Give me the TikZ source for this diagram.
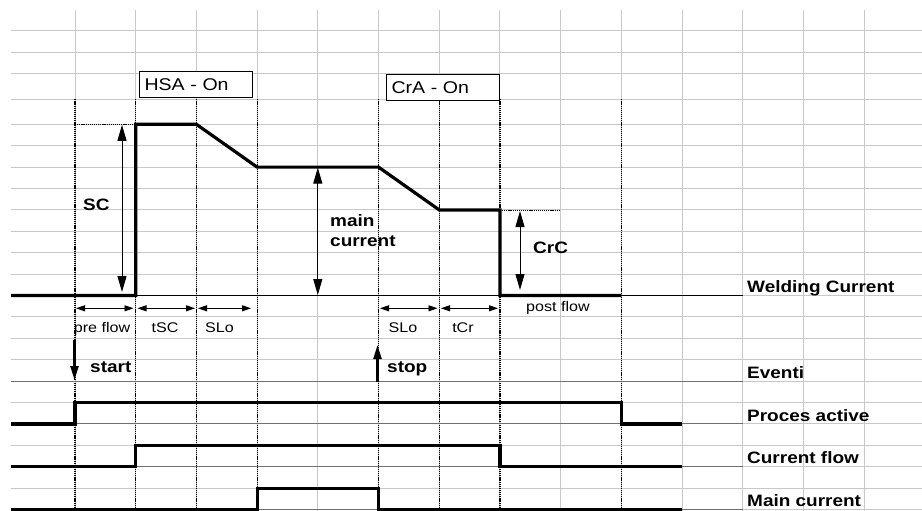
\documentclass[tikz,border=0pt]{standalone}
\usepackage{xcolor}
\usepackage{fontspec}
\usepackage{tikz}
\usetikzlibrary{positioning,arrows.meta}
\newfontfamily\chartfont{Liberation Sans}[FakeStretch=1.15]
\definecolor{gridline}{HTML}{C8C8C8}
\definecolor{sigbase}{HTML}{707070}
\tikzset{
  grd/.style={draw=gridline,line width=1pt},
  dots/.style={draw=black,line width=1.2pt,dash pattern=on 1.2pt off 0.9pt},
  wave/.style={draw=black,line width=3.2pt},
  dimv/.style={{Triangle[length=16pt,width=9pt]}-{Triangle[length=16pt,width=9pt]},line width=1pt},
  dimh/.style={{Triangle[length=9pt,width=6pt]}-{Triangle[length=9pt,width=6pt]},line width=0.9pt},
  evt/.style={-{Triangle[length=14pt,width=8pt]},line width=2.2pt},
  flag/.style={draw,line width=1pt,fill=white,font=\chartfont\fontsize{17}{20}\selectfont,
    text width=103pt,inner xsep=5pt,inner ysep=0pt,minimum height=26pt,align=left},
  lbl/.style={font=\chartfont\fontsize{16.5}{20.5}\selectfont\bfseries,inner sep=0pt},
  small/.style={font=\chartfont\fontsize{14}{16}\selectfont,inner sep=0pt},
}
\begin{document}
\begin{tikzpicture}[x=1pt,y=-1pt]
  \useasboundingbox (0,0) rectangle (922,511);
  % sheet grid
  \foreach \x in {75,135.7,...,864.1} \draw[grd] (\x,10) -- (\x,511);
  \foreach \y in {31,52.4,73.8,99.3,124.3,145.7,...,509.5} \draw[grd] (11,\y) -- (922,\y);
  \foreach \x in {75,135.7,196.4,257.1,378.5,439.2,499.9,621.3} \draw[dots] (\x,99.3) -- (\x,511);
  % base lines
  \draw[line width=1pt] (11,295.5) -- (742.7,295.5);
  \foreach \y in {381.1,423.9,466.7,509.5} \draw[draw=sigbase,line width=1pt] (11,\y) -- (742.7,\y);
  % welding current
  \draw[wave] (11,295.5) -- (135.7,295.5) -- (135.7,124.3) -- (196.4,124.3) -- (257.1,167.1)
    -- (378.5,167.1) -- (439.2,209.9) -- (499.9,209.9) -- (499.9,295.5) -- (621.3,295.5);
  \draw[dots,line width=0.8pt] (75,124.3) -- (135.7,124.3);
  \draw[dots,line width=0.8pt] (499.9,209.9) -- (560.6,209.9);
  % signals
  \draw[wave] (11,423.9) -- (75,423.9) -- (75,402.5) -- (621.3,402.5) -- (621.3,423.9) -- (682,423.9);
  \draw[wave] (11,466.7) -- (135.7,466.7) -- (135.7,445.3) -- (499.9,445.3) -- (499.9,466.7) -- (682,466.7);
  \draw[wave] (11,509.5) -- (257.1,509.5) -- (257.1,488.1) -- (378.5,488.1) -- (378.5,509.5) -- (682,509.5);
  % levels
  \coordinate (sc-t) at (122,124.8);
  \coordinate (sc-b) at (122,292);
  \draw[dimv] (sc-t) -- (sc-b);
  \node[lbl,anchor=base west] (sc) at (83,210.5) {SC};
  \coordinate (mc-t) at (317.8,167.6);
  \coordinate (mc-b) at (317.8,295);
  \draw[dimv] (mc-t) -- (mc-b);
  \node[lbl,anchor=base west,align=left] (mc) at (330,246.5) {main\\current};
  \coordinate (crc-t) at (520,211);
  \coordinate (crc-b) at (520,290);
  \draw[dimv] (crc-t) -- (crc-b);
  \node[lbl,anchor=base west] (crc) at (533,253.3) {CrC};
  % times
  \foreach \n/\a/\b/\m/\t in {pf/76/133.5/102/pre flow,tsc/137.5/195/165/tSC,slo/198/251/219.5/SLo,
      slt/380/437.5/403/SLo,tcr/441/498/463/tCr}{
    \coordinate (\n-l) at (\a,308.3);
    \coordinate (\n-r) at (\b,308.3);
    \draw[dimh] (\n-l) -- (\n-r);
    \node[small,anchor=base] (\n) at (\m,332.3) {\t};
  }
  \node[small,anchor=base] (post) at (558,311.5) {post flow};
  \node[flag,anchor=north west] (hsa) at (139,71) {HSA - On};
  \node[flag,anchor=north west] (cra) at (386,74) {CrA - On};
  % events
  \coordinate (st-a) at (74.5,340);
  \coordinate (st-b) at (74.5,380);
  \draw[evt] (st-a) -- (st-b);
  \node[lbl,anchor=base west] (start) at (90,372.5) {start};
  \coordinate (sp-a) at (377.5,382);
  \coordinate (sp-b) at (377.5,345);
  \draw[evt] (sp-a) -- (sp-b);
  \node[lbl,anchor=base west] (stop) at (387,372.5) {stop};
  % row names
  \node[lbl,anchor=base west] (weld) at (747,292.5) {Welding Current};
  \node[lbl,anchor=base west] (ev) at (747,378) {Eventi};
  \node[lbl,anchor=base west] (pa) at (747,421) {Proces active};
  \node[lbl,anchor=base west] (cf) at (747,463.5) {Current flow};
  \node[lbl,anchor=base west] (mn) at (747,506.5) {Main current};
\end{tikzpicture}
\end{document}
